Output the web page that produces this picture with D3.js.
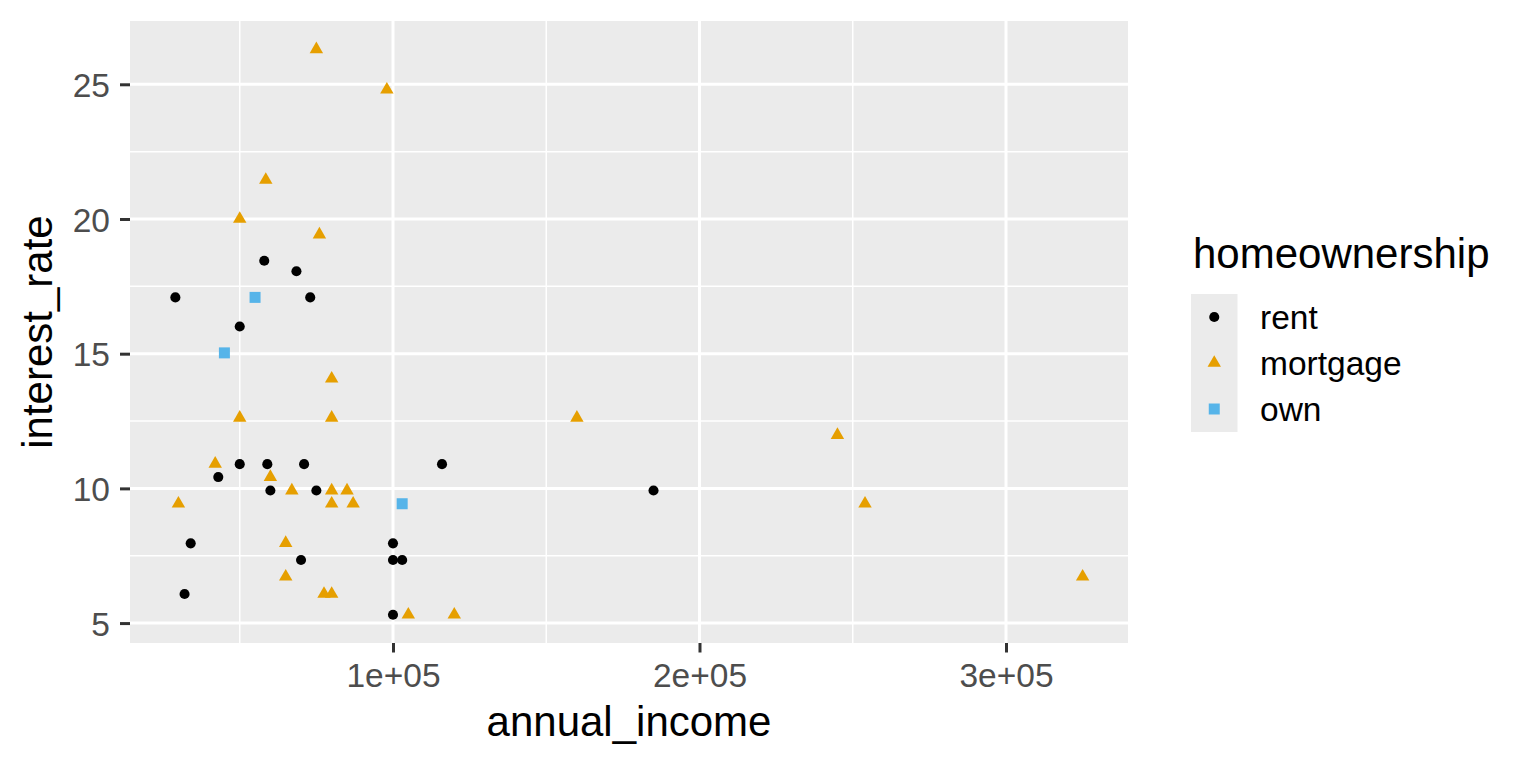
<!DOCTYPE html>
<html>
<head>
<meta charset="utf-8">
<script src="https://cdn.jsdelivr.net/npm/d3@7"></script>
<style>
  html, body { margin: 0; padding: 0; background: #ffffff; }
  svg { display: block; font-family: "Liberation Sans", Arial, Helvetica, sans-serif; }
</style>
</head>
<body>
<svg id="chart" width="1536" height="768"></svg>
<script>
// ---- data ----
const categories = ["rent", "mortgage", "own"];
const categoryColors = ["#000000", "#E69F00", "#56B4E9"];

const rentIncome = [58000, 68500, 29000, 73000, 50000, 50000, 59000, 71000, 116000, 43000,
                    60000, 75000, 34000, 100000, 70000, 100000, 103000, 32000, 100000, 185000];
const rentRate   = [18.45, 18.06, 17.09, 17.09, 16.01, 10.90, 10.90, 10.90, 10.90, 10.42,
                    9.92, 9.92, 7.96, 7.96, 7.34, 7.34, 7.34, 6.08, 5.31, 9.92];

const mortgageIncome = [75000, 98000, 58500, 50000, 76000, 80000, 50000, 80000, 42000, 60000,
                        67000, 80000, 85000, 30000, 80000, 87000, 65000, 65000, 77500, 80000,
                        105000, 120000, 160000, 245000, 254000, 325000];
const mortgageRate   = [26.30, 24.80, 21.45, 20.00, 19.42, 14.07, 12.62, 12.62, 10.91, 10.42,
                        9.92, 9.92, 9.92, 9.43, 9.43, 9.43, 7.97, 6.72, 6.08, 6.08,
                        5.31, 5.31, 12.62, 11.98, 9.43, 6.72];

const ownIncome = [55000, 45000, 103000];
const ownRate   = [17.09, 15.03, 9.43];

const xBreaks = [100000, 200000, 300000];
const xLabels = ["1e+05", "2e+05", "3e+05"];
const yBreaks = [5, 10, 15, 20, 25];
const yLabels = ["5", "10", "15", "20", "25"];

const xTitle = "annual_income";
const yTitle = "interest_rate";
const legendTitle = "homeownership";

// ---- assemble ----
const groups = [
  { cat: "rent", income: rentIncome, rate: rentRate },
  { cat: "mortgage", income: mortgageIncome, rate: mortgageRate },
  { cat: "own", income: ownIncome, rate: ownRate }
];
const points = [];
groups.forEach(g => g.income.forEach((v, i) => points.push({ cat: g.cat, x: v, y: g.rate[i] })));

// ---- layout ----
const panel = { left: 130, right: 1128, top: 21, bottom: 643 };
const svg = d3.select("#chart");

function expand(ext) { const d = (ext[1] - ext[0]) * 0.05; return [ext[0] - d, ext[1] + d]; }
const x = d3.scaleLinear().domain(expand(d3.extent(points, d => d.x))).range([panel.left, panel.right]);
const y = d3.scaleLinear().domain(expand(d3.extent(points, d => d.y))).range([panel.bottom, panel.top]);

const color = d3.scaleOrdinal().domain(categories).range(categoryColors);
const shape = d3.scaleOrdinal().domain(categories).range([d3.symbolCircle, d3.symbolTriangle, d3.symbolSquare]);
const sizeOf = { rent: 80, mortgage: 78, own: 121 };
const sym = c => d3.symbol().type(shape(c)).size(sizeOf[c])();

// panel background
svg.append("rect")
  .attr("x", panel.left).attr("y", panel.top)
  .attr("width", panel.right - panel.left).attr("height", panel.bottom - panel.top)
  .attr("fill", "#EBEBEB");

// minor gridlines
const xMinor = [];
for (let i = 0; i < xBreaks.length; i++) {
  const step = i > 0 ? xBreaks[i] - xBreaks[i - 1] : xBreaks[1] - xBreaks[0];
  xMinor.push(xBreaks[i] - step / 2);
}
xMinor.push(xBreaks[xBreaks.length - 1] + (xBreaks[1] - xBreaks[0]) / 2);
const yMinor = [];
for (let i = 0; i <= yBreaks.length; i++) {
  const step = yBreaks[1] - yBreaks[0];
  yMinor.push((i < yBreaks.length ? yBreaks[i] : yBreaks[i - 1] + step) - step / 2);
}
const xd = x.domain(), yd = y.domain();
const grid = svg.append("g");
grid.selectAll(".xmin").data(xMinor.filter(v => v > xd[0] && v < xd[1])).join("line")
  .attr("x1", d => x(d)).attr("x2", d => x(d)).attr("y1", panel.top).attr("y2", panel.bottom)
  .attr("stroke", "#fff").attr("stroke-width", 1.5);
grid.selectAll(".ymin").data(yMinor.filter(v => v > yd[0] && v < yd[1])).join("line")
  .attr("y1", d => y(d)).attr("y2", d => y(d)).attr("x1", panel.left).attr("x2", panel.right)
  .attr("stroke", "#fff").attr("stroke-width", 1.5);
grid.selectAll(".xmaj").data(xBreaks).join("line")
  .attr("x1", d => x(d)).attr("x2", d => x(d)).attr("y1", panel.top).attr("y2", panel.bottom)
  .attr("stroke", "#fff").attr("stroke-width", 3);
grid.selectAll(".ymaj").data(yBreaks).join("line")
  .attr("y1", d => y(d)).attr("y2", d => y(d)).attr("x1", panel.left).attr("x2", panel.right)
  .attr("stroke", "#fff").attr("stroke-width", 3);

// points
svg.append("g").selectAll("path").data(points).join("path")
  .attr("d", d => sym(d.cat))
  .attr("transform", d => `translate(${x(d.x)},${y(d.y)})`)
  .attr("fill", d => color(d.cat));

// axes
const xAxis = svg.append("g").attr("transform", `translate(0,${panel.bottom})`)
  .call(d3.axisBottom(x).tickValues(xBreaks).tickFormat((d, i) => xLabels[i]).tickSize(9.5).tickPadding(10.5));
const yAxis = svg.append("g").attr("transform", `translate(${panel.left},0)`)
  .call(d3.axisLeft(y).tickValues(yBreaks).tickFormat((d, i) => yLabels[i]).tickSize(10).tickPadding(10));
[xAxis, yAxis].forEach(a => {
  a.select(".domain").remove();
  a.selectAll(".tick line").attr("stroke", "#333333").attr("stroke-width", 3);
  a.selectAll(".tick text").attr("fill", "#4D4D4D").style("font-size", "33.5px")
    .style("font-family", "'Liberation Sans', Arial, sans-serif");
});
yAxis.selectAll(".tick text").attr("dy", "0.36em");

// axis titles
svg.append("text").attr("x", (panel.left + panel.right) / 2).attr("y", 736)
  .attr("text-anchor", "middle").attr("fill", "#000").style("font-size", "42px").text(xTitle);
svg.append("text").attr("transform", `translate(52,${(panel.top + panel.bottom) / 2}) rotate(-90)`)
  .attr("text-anchor", "middle").attr("fill", "#000").style("font-size", "42px").text(yTitle);

// legend
const lg = svg.append("g");
lg.append("text").attr("x", 1193).attr("y", 268).attr("fill", "#000").style("font-size", "42px").text(legendTitle);
const keyH = 46, keyW = 46.5, keyX = 1191, keyY = 294;
categories.forEach((c, i) => {
  lg.append("rect").attr("x", keyX).attr("y", keyY + i * keyH).attr("width", keyW).attr("height", keyH)
    .attr("fill", "#EBEBEB");
});
categories.forEach((c, i) => {
  const cy = keyY + i * keyH + keyH / 2;
  lg.append("path").attr("d", sym(c)).attr("transform", `translate(${keyX + keyW / 2},${cy})`).attr("fill", color(c));
  lg.append("text").attr("x", 1260).attr("y", cy + 12).attr("fill", "#000").style("font-size", "33.5px").text(c);
});
</script>
</body>
</html>
